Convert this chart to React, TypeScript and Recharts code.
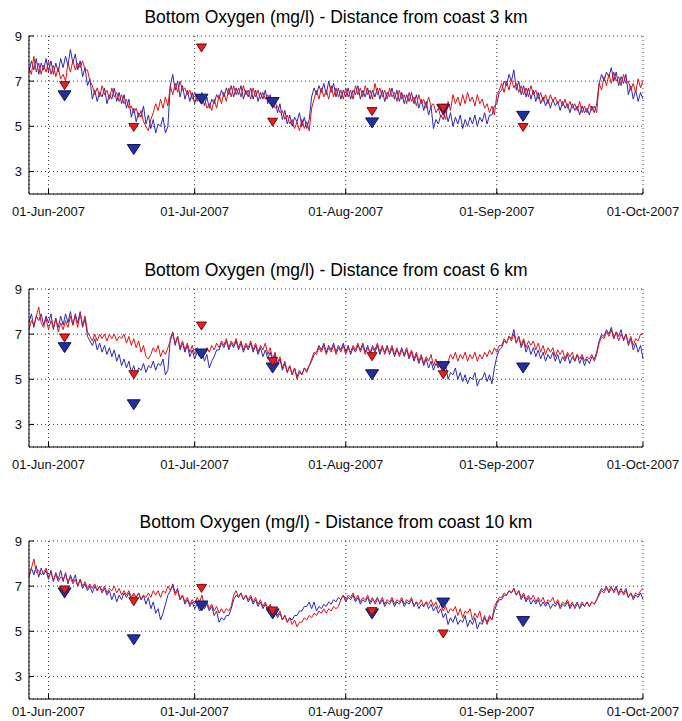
import {
  ComposedChart,
  Line,
  Scatter,
  XAxis,
  YAxis,
  CartesianGrid,
} from "recharts";

// time axis: days counted from 01-Jun-2007, half-day samples
const startDay = -4;
const stepDays = 0.5;
const dateTicks = [0, 30, 61, 92, 122];
const dateLabels = [
  "01-Jun-2007",
  "01-Jul-2007",
  "01-Aug-2007",
  "01-Sep-2007",
  "01-Oct-2007",
];
const oxyTicks = [3, 5, 7, 9];

// days of the ship samples (triangles)
const sampleDays = [3.3, 17.5, 31.4, 46, 66.4, 81, 97.4];

// ---- 3 km ----
const red3km = [
  7.6, 7.3, 8.1, 7.4, 7.8, 7.3, 7.7, 7.4, 7.9, 7.3, 7.7, 7.2, 7.6, 7.1, 7.3, 7.0, 7.8, 7.4, 7.9, 7.5,
  7.8, 7.6, 7.9, 7.5, 7.5, 7.0, 6.8, 6.4, 6.7, 6.3, 6.8, 6.4, 6.6, 6.2, 6.7, 6.3, 6.5, 6.1, 6.4, 6.0,
  6.2, 5.8, 5.9, 5.6, 5.8, 5.4, 5.7, 5.2, 5.0, 4.8, 5.3, 5.6, 6.0, 5.7, 6.2, 5.8, 6.3, 5.9, 6.8, 6.4,
  6.9, 6.5, 7.0, 6.6, 6.7, 6.4, 6.6, 6.2, 6.5, 6.1, 6.4, 6.0, 6.3, 5.8, 6.0, 5.7, 6.2, 5.8, 6.4, 6.0,
  6.5, 6.1, 6.7, 6.3, 6.8, 6.4, 6.7, 6.3, 6.8, 6.4, 6.6, 6.2, 6.7, 6.3, 6.6, 6.2, 6.5, 6.2, 6.4, 6.0,
  6.2, 5.8, 5.9, 5.6, 5.7, 5.3, 5.5, 5.1, 5.3, 4.9, 5.2, 4.8, 5.3, 4.9, 5.2, 4.8, 5.8, 6.2, 6.6, 6.2,
  6.7, 6.3, 6.6, 6.2, 6.8, 6.3, 6.7, 6.3, 6.6, 6.2, 6.7, 6.3, 6.6, 6.2, 6.8, 6.4, 6.7, 6.3, 6.8, 6.4,
  6.6, 6.2, 6.9, 6.4, 6.7, 6.3, 6.6, 6.2, 6.7, 6.3, 6.5, 6.1, 6.6, 6.2, 6.4, 6.0, 6.5, 6.1, 6.3, 5.9,
  6.4, 6.0, 6.2, 5.8, 6.3, 5.9, 6.0, 5.6, 5.8, 5.4, 5.6, 5.3, 6.1, 5.7, 6.4, 6.0, 6.3, 5.9, 6.4, 6.0,
  6.5, 6.1, 6.3, 5.9, 6.4, 6.0, 6.2, 5.8, 6.0, 5.6, 5.9, 5.5, 6.4, 6.6, 6.9, 6.5, 7.0, 6.6, 7.1, 6.7,
  6.9, 6.5, 6.8, 6.4, 6.7, 6.3, 6.8, 6.4, 6.6, 6.2, 6.5, 6.1, 6.4, 6.0, 6.4, 6.1, 6.3, 6.0, 6.2, 5.9,
  6.2, 5.8, 6.1, 5.8, 6.0, 5.7, 6.1, 5.6, 5.9, 5.6, 6.0, 5.7, 5.9, 5.6, 6.9, 6.6, 7.2, 6.8, 7.3, 6.9,
  7.4, 7.0, 7.2, 6.8, 7.3, 6.9, 7.0, 6.6, 6.9, 6.5, 7.1, 6.7, 7.0,
];
const blue3km = [
  7.4, 7.9, 7.5, 8.0, 7.3, 7.8, 7.5, 8.0, 7.4, 7.9, 7.3, 7.8, 7.4, 8.0, 7.6, 8.1, 7.7, 8.4, 7.8, 8.2,
  7.5, 7.9, 7.2, 7.6, 6.8, 7.1, 6.2, 6.6, 6.1, 6.5, 6.3, 6.7, 6.0, 6.4, 6.2, 6.7, 6.1, 6.5, 6.0, 6.4,
  5.8, 6.2, 5.4, 5.8, 5.2, 5.6, 5.4, 5.9, 5.1, 5.5, 4.9, 5.3, 4.7, 5.1, 5.0, 5.4, 4.7, 5.0, 6.8, 7.3,
  6.6, 7.0, 6.3, 6.8, 6.2, 6.6, 6.1, 6.5, 6.0, 6.4, 6.1, 6.5, 5.9, 6.3, 5.8, 6.2, 6.0, 6.4, 6.2, 6.6,
  6.3, 6.7, 6.4, 6.8, 6.3, 6.7, 6.4, 6.8, 6.2, 6.6, 6.3, 6.7, 6.2, 6.6, 6.1, 6.5, 6.2, 6.6, 6.0, 6.4,
  5.8, 6.2, 5.6, 6.0, 5.3, 5.7, 5.1, 5.5, 5.0, 5.4, 5.2, 5.6, 5.0, 5.4, 4.9, 5.3, 6.3, 6.7, 6.4, 6.8,
  6.5, 6.9, 6.4, 7.0, 6.5, 6.9, 6.3, 6.7, 6.2, 6.6, 6.3, 6.7, 6.2, 6.6, 6.4, 6.8, 6.2, 6.6, 6.3, 6.7,
  6.2, 6.6, 6.3, 6.7, 6.2, 6.6, 6.1, 6.5, 6.3, 6.7, 6.2, 6.6, 6.1, 6.5, 6.0, 6.4, 6.1, 6.5, 6.0, 6.4,
  5.8, 6.2, 5.7, 6.1, 5.5, 5.9, 4.9, 5.3, 5.1, 5.5, 5.3, 5.7, 5.2, 5.6, 5.0, 5.4, 5.1, 5.5, 4.9, 5.3,
  5.0, 5.4, 5.1, 5.5, 5.0, 5.4, 5.2, 5.6, 5.1, 5.5, 5.5, 5.9, 6.0, 6.5, 6.6, 7.0, 6.8, 7.3, 7.0, 7.5,
  6.6, 7.0, 6.4, 6.8, 6.3, 6.7, 6.2, 6.6, 6.1, 6.5, 6.0, 6.3, 5.9, 6.2, 5.8, 6.2, 5.9, 6.1, 5.7, 6.1,
  5.8, 6.0, 5.6, 6.0, 5.7, 5.9, 5.5, 5.9, 5.6, 5.8, 5.5, 5.9, 5.6, 6.0, 6.9, 7.3, 7.0, 7.4, 7.2, 7.6,
  7.0, 7.4, 6.8, 7.2, 6.9, 7.3, 6.4, 6.8, 6.2, 6.6, 6.1, 6.5, 6.2,
];
const redSample3km = [6.8, 4.95, 8.47, 5.18, 5.65, 5.8, 4.95];
const blueSample3km = [6.35, 3.97, 6.2, 6.05, 5.15, 5.75, 5.44];

// ---- 6 km ----
const red6km = [
  7.2, 7.6, 7.4, 7.8, 8.2, 7.5, 7.3, 7.7, 7.2, 7.6, 7.3, 7.7, 7.1, 7.5, 7.2, 7.6, 7.3, 7.8, 7.4, 7.8,
  7.3, 7.9, 7.4, 7.8, 7.1, 6.9, 6.7, 7.0, 6.7, 7.0, 6.8, 7.0, 6.7, 7.0, 6.8, 7.0, 6.7, 6.9, 6.8, 7.0,
  6.6, 6.9, 6.5, 6.8, 6.4, 6.7, 6.2, 6.5, 6.0, 5.9, 6.1, 6.4, 6.2, 6.5, 6.0, 6.3, 6.1, 6.4, 6.7, 7.0,
  6.6, 6.9, 6.4, 6.7, 6.3, 6.6, 6.2, 6.5, 6.1, 6.4, 6.0, 6.3, 6.1, 6.4, 6.2, 6.5, 6.3, 6.6, 6.4, 6.7,
  6.5, 6.8, 6.4, 6.7, 6.5, 6.8, 6.4, 6.7, 6.3, 6.6, 6.4, 6.7, 6.3, 6.6, 6.2, 6.5, 6.3, 6.6, 6.1, 6.4,
  5.9, 6.2, 5.7, 6.0, 5.5, 5.8, 5.3, 5.6, 5.2, 5.5, 5.0, 5.3, 5.2, 5.5, 5.3, 5.6, 5.9, 6.2, 6.1, 6.4,
  6.2, 6.5, 6.1, 6.4, 6.2, 6.5, 6.1, 6.4, 6.2, 6.5, 6.1, 6.4, 6.2, 6.5, 6.3, 6.6, 6.2, 6.5, 6.1, 6.4,
  6.2, 6.5, 6.3, 6.6, 6.2, 6.5, 6.1, 6.4, 6.2, 6.5, 6.1, 6.4, 6.0, 6.3, 6.1, 6.4, 6.0, 6.3, 5.9, 6.2,
  5.8, 6.1, 5.7, 6.0, 5.8, 6.1, 5.6, 5.9, 5.5, 5.8, 5.3, 5.6, 5.8, 6.1, 5.9, 6.2, 5.8, 6.1, 5.9, 6.2,
  5.8, 6.1, 5.9, 6.2, 5.8, 6.1, 5.9, 6.2, 6.0, 6.3, 6.1, 6.4, 6.2, 6.5, 6.5, 6.8, 6.6, 6.9, 6.7, 7.0,
  6.6, 6.9, 6.5, 6.8, 6.4, 6.7, 6.5, 6.7, 6.3, 6.6, 6.2, 6.5, 6.1, 6.4, 6.2, 6.4, 6.0, 6.3, 6.1, 6.3,
  5.9, 6.2, 6.0, 6.2, 5.8, 6.1, 5.9, 6.1, 5.8, 6.0, 5.9, 6.1, 5.8, 6.1, 6.6, 6.9, 6.8, 7.1, 6.9, 7.2,
  6.8, 7.1, 6.7, 7.0, 6.8, 7.0, 6.6, 6.9, 6.5, 6.8, 6.7, 7.0, 7.0,
];
const blue6km = [
  7.5, 7.9, 7.3, 7.8, 7.6, 7.9, 7.4, 7.8, 7.5, 7.9, 7.2, 7.7, 7.3, 7.8, 7.4, 7.9, 7.5, 8.0, 7.4, 7.9,
  7.5, 8.0, 7.3, 7.7, 6.9, 6.7, 6.5, 6.8, 6.3, 6.6, 6.2, 6.5, 6.1, 6.4, 6.0, 6.3, 5.8, 6.1, 5.6, 5.9,
  5.5, 5.8, 5.3, 5.6, 5.2, 5.5, 5.4, 5.7, 5.3, 5.6, 5.5, 5.8, 5.4, 5.7, 5.6, 5.9, 5.2, 5.4, 6.8, 7.1,
  6.5, 6.9, 6.3, 6.6, 6.2, 6.5, 6.0, 6.3, 5.9, 6.2, 6.0, 6.3, 5.8, 6.1, 5.5, 5.8, 6.0, 6.3, 6.3, 6.6,
  6.4, 6.7, 6.3, 6.6, 6.4, 6.7, 6.3, 6.6, 6.2, 6.5, 6.3, 6.6, 6.2, 6.5, 6.1, 6.4, 6.0, 6.3, 5.9, 6.2,
  5.8, 6.1, 5.6, 5.9, 5.4, 5.7, 5.3, 5.6, 5.2, 5.5, 5.1, 5.4, 5.2, 5.5, 5.4, 5.6, 5.8, 6.1, 6.2, 6.5,
  6.3, 6.6, 6.2, 6.5, 6.3, 6.6, 6.2, 6.5, 6.3, 6.6, 6.2, 6.5, 6.1, 6.4, 6.2, 6.5, 6.3, 6.6, 6.2, 6.5,
  6.1, 6.4, 6.2, 6.5, 6.1, 6.4, 6.2, 6.5, 6.1, 6.4, 6.0, 6.3, 6.1, 6.4, 6.0, 6.3, 5.9, 6.2, 5.8, 6.1,
  5.7, 6.0, 5.6, 5.9, 5.5, 5.8, 5.4, 5.7, 5.5, 5.8, 5.3, 5.6, 5.0, 5.3, 5.2, 5.5, 5.0, 5.3, 4.9, 5.2,
  4.8, 5.1, 5.0, 5.3, 4.7, 5.0, 5.0, 5.3, 4.9, 5.2, 4.8, 5.5, 6.0, 6.3, 6.4, 6.7, 6.6, 6.9, 6.8, 7.2,
  6.6, 6.9, 6.4, 6.7, 6.2, 6.5, 6.1, 6.4, 6.0, 6.3, 5.9, 6.2, 5.8, 6.1, 5.9, 6.2, 5.8, 6.1, 5.7, 6.0,
  5.8, 6.1, 5.7, 6.0, 5.8, 6.1, 5.7, 6.0, 5.6, 5.9, 5.7, 6.0, 5.9, 6.2, 6.7, 7.0, 6.9, 7.2, 7.0, 7.3,
  6.8, 7.1, 6.9, 7.2, 6.7, 7.0, 6.5, 6.8, 6.3, 6.6, 6.2, 6.5, 5.9,
];
const redSample6km = [6.83, 5.2, 7.36, 5.78, 6.0, 5.2, null];
const blueSample6km = [6.4, 3.87, 6.12, 5.5, 5.2, 5.56, 5.5];

// ---- 10 km ----
const red10km = [
  7.5, 7.8, 8.2, 7.6, 7.7, 7.5, 7.6, 7.8, 7.4, 7.6, 7.3, 7.5, 7.2, 7.4, 7.3, 7.5, 7.2, 7.4, 7.1, 7.3,
  7.0, 7.3, 7.0, 7.2, 6.9, 7.1, 6.9, 7.1, 6.8, 7.0, 6.8, 7.0, 6.7, 6.9, 6.8, 7.0, 6.7, 6.9, 6.6, 6.8,
  6.6, 6.8, 6.5, 6.7, 6.5, 6.7, 6.4, 6.6, 6.5, 6.7, 6.5, 6.8, 6.6, 6.8, 6.5, 6.8, 6.7, 7.0, 6.8, 7.0,
  6.6, 6.8, 6.4, 6.6, 6.3, 6.5, 6.2, 6.4, 6.2, 6.5, 6.3, 6.6, 6.1, 6.3, 6.0, 6.2, 5.9, 6.1, 5.8, 6.0,
  5.8, 6.0, 5.9, 6.1, 6.6, 6.8, 6.5, 6.7, 6.4, 6.6, 6.4, 6.6, 6.3, 6.5, 6.2, 6.4, 6.1, 6.3, 6.0, 6.2,
  5.8, 6.0, 5.7, 5.9, 5.5, 5.7, 5.4, 5.6, 5.3, 5.5, 5.2, 5.4, 5.4, 5.6, 5.5, 5.7, 5.6, 5.8, 5.7, 5.9,
  5.8, 6.0, 5.8, 6.0, 5.9, 6.1, 6.0, 6.1, 6.4, 6.6, 6.4, 6.6, 6.5, 6.7, 6.4, 6.6, 6.3, 6.5, 6.4, 6.6,
  6.3, 6.5, 6.2, 6.4, 6.3, 6.5, 6.2, 6.4, 6.3, 6.5, 6.2, 6.4, 6.3, 6.5, 6.2, 6.4, 6.3, 6.5, 6.1, 6.3,
  6.2, 6.4, 6.1, 6.3, 6.2, 6.4, 6.1, 6.3, 6.0, 6.2, 5.9, 6.1, 5.8, 6.0, 5.9, 6.1, 5.7, 6.0, 5.6, 5.9,
  5.8, 6.0, 5.5, 5.8, 5.6, 5.9, 5.4, 5.7, 5.3, 5.6, 5.5, 6.1, 6.3, 6.5, 6.5, 6.7, 6.6, 6.8, 6.7, 6.9,
  6.6, 6.8, 6.5, 6.7, 6.4, 6.6, 6.4, 6.6, 6.3, 6.5, 6.3, 6.5, 6.2, 6.4, 6.3, 6.5, 6.2, 6.4, 6.1, 6.3,
  6.2, 6.4, 6.1, 6.3, 6.0, 6.2, 6.1, 6.3, 6.1, 6.3, 6.1, 6.3, 6.2, 6.4, 6.6, 6.8, 6.7, 6.9, 6.8, 7.0,
  6.7, 6.9, 6.7, 6.9, 6.6, 6.8, 6.5, 6.7, 6.5, 6.7, 6.6, 6.8, 6.9,
];
const blue10km = [
  7.4, 7.8, 7.5, 7.9, 7.4, 7.8, 7.5, 7.7, 7.3, 7.7, 7.2, 7.6, 7.3, 7.7, 7.2, 7.6, 7.1, 7.5, 7.2, 7.5,
  7.0, 7.3, 6.9, 7.1, 6.8, 7.0, 6.7, 7.0, 6.8, 7.0, 6.7, 6.9, 6.6, 6.8, 6.4, 6.7, 6.3, 6.6, 6.4, 6.7,
  6.5, 6.7, 6.4, 6.6, 6.5, 6.7, 6.4, 6.6, 6.2, 6.5, 6.0, 6.3, 5.8, 6.0, 5.5, 5.8, 6.2, 6.6, 6.8, 7.1,
  6.7, 6.9, 6.4, 6.6, 6.2, 6.4, 6.1, 6.3, 6.0, 6.2, 5.9, 6.1, 6.0, 6.2, 5.9, 6.1, 5.7, 5.9, 5.4, 5.6,
  5.5, 5.7, 5.7, 6.0, 6.4, 6.6, 6.5, 6.7, 6.4, 6.6, 6.3, 6.5, 6.2, 6.4, 6.1, 6.3, 6.0, 6.2, 5.9, 6.1,
  5.7, 5.9, 5.6, 5.8, 5.5, 5.7, 5.4, 5.6, 5.5, 5.7, 5.7, 5.9, 5.9, 6.1, 6.1, 6.3, 6.0, 6.3, 5.9, 6.1,
  6.0, 6.2, 6.1, 6.3, 6.2, 6.4, 6.3, 6.5, 6.4, 6.6, 6.3, 6.5, 6.4, 6.6, 6.3, 6.5, 6.2, 6.4, 6.3, 6.5,
  6.2, 6.4, 6.3, 6.5, 6.2, 6.4, 6.1, 6.3, 6.2, 6.4, 6.1, 6.3, 6.2, 6.4, 6.1, 6.3, 6.2, 6.4, 6.1, 6.3,
  6.0, 6.2, 6.1, 6.3, 6.0, 6.2, 5.9, 6.1, 5.8, 6.0, 5.6, 5.8, 5.3, 5.6, 5.4, 5.7, 5.3, 5.5, 5.4, 5.7,
  5.2, 5.5, 5.3, 5.6, 5.1, 5.4, 5.3, 5.6, 5.4, 5.7, 5.5, 5.9, 6.2, 6.4, 6.4, 6.6, 6.6, 6.8, 6.7, 6.9,
  6.6, 6.8, 6.4, 6.6, 6.3, 6.5, 6.2, 6.4, 6.2, 6.4, 6.1, 6.3, 6.1, 6.3, 6.0, 6.2, 6.1, 6.3, 6.0, 6.2,
  6.1, 6.3, 6.0, 6.2, 6.1, 6.3, 6.0, 6.2, 6.1, 6.3, 6.1, 6.3, 6.2, 6.4, 6.7, 6.9, 6.8, 7.0, 6.7, 6.9,
  6.8, 7.0, 6.6, 6.8, 6.7, 6.9, 6.5, 6.7, 6.4, 6.6, 6.5, 6.7, 6.4,
];
const redSample10km = [6.83, 6.31, 6.9, 5.9, 5.87, 4.88, null];
const blueSample10km = [6.7, 4.62, 6.12, 5.77, 5.77, 6.25, 5.43];

const FONT = '"Liberation Sans", Arial, Helvetica, sans-serif';
const RED = "#dc1418";
const BLUE = "#2a2ab0";

function buildRows(red: number[], blue: number[]) {
  const n = Math.max(red.length, blue.length);
  const rows = [];
  for (let i = 0; i < n; i++) {
    rows.push({ day: startDay + i * stepDays, red: red[i], blue: blue[i] });
  }
  return rows;
}

function buildSamples(vals: (number | null)[]) {
  return sampleDays
    .map((d, i) => ({ day: d, v: vals[i] }))
    .filter((p) => p.v != null);
}

const triangle =
  (w: number, h: number, fill: string, stroke: string) => (props: any) => {
    const { cx, cy } = props;
    if (cx == null || cy == null) return <g />;
    return (
      <path
        d={`M${cx - w / 2},${cy - h / 2}L${cx + w / 2},${cy - h / 2}L${cx},${cy + h / 2}Z`}
        fill={fill}
        stroke={stroke}
        strokeWidth={1}
      />
    );
  };

// bottom date labels; labelGap lets the last panel sit closer to the page edge
const makeBottomTick = (labelGap: number) => ({ x, y, payload }: any) => {
  const i = dateTicks.indexOf(payload.value);
  return (
    <g>
      <line x1={x} y1={y} x2={x} y2={y - 5} stroke="#000" />
      <text x={x} y={y + labelGap} textAnchor="middle" fontSize={13} fontFamily={FONT} fill="#111">
        {dateLabels[i]}
      </text>
    </g>
  );
};
const TopTick = ({ x, y }: any) => (
  <line x1={x} y1={y} x2={x} y2={y + 5} stroke="#000" />
);
const LeftTick = ({ x, y, payload }: any) => (
  <g>
    <line x1={x} y1={y} x2={x + 5} y2={y} stroke="#000" />
    <text x={x - 7} y={y + 4.5} textAnchor="end" fontSize={13} fontFamily={FONT} fill="#111">
      {payload.value}
    </text>
  </g>
);
const RightTick = ({ x, y }: any) => (
  <line x1={x} y1={y} x2={x - 5} y2={y} stroke="#000" />
);

interface PanelProps {
  top: number;
  title: string;
  red: number[];
  blue: number[];
  redSamples: (number | null)[];
  blueSamples: (number | null)[];
  labelGap?: number;
}

function Panel({ top, title, red, blue, redSamples, blueSamples, labelGap = 22 }: PanelProps) {
  const rows = buildRows(red, blue);
  const BottomTick = makeBottomTick(labelGap);
  return (
    <div style={{ position: "absolute", left: 0, top, width: 682, height: 222 }}>
      <div
        style={{
          position: "absolute",
          left: 29,
          width: 614,
          top: 6,
          textAlign: "center",
          fontFamily: FONT,
          fontSize: 17.5,
          lineHeight: "22px",
          color: "#000",
        }}
      >
        {title}
      </div>
      <ComposedChart
        width={682}
        height={222}
        data={rows}
        margin={{ top: 36, right: 39, bottom: 0, left: 0 }}
      >
        <CartesianGrid stroke="#333" strokeDasharray="1 3" />
        <XAxis
          dataKey="day"
          type="number"
          domain={[-4, 122]}
          ticks={dateTicks}
          interval={0}
          height={28}
          tickSize={0}
          tickMargin={0}
          tickLine={false}
          axisLine={{ stroke: "#000" }}
          tick={<BottomTick />}
        />
        <XAxis
          xAxisId="top"
          orientation="top"
          dataKey="day"
          type="number"
          domain={[-4, 122]}
          ticks={dateTicks}
          interval={0}
          height={0}
          tickSize={0}
          tickMargin={0}
          tickLine={false}
          axisLine={{ stroke: "#000" }}
          tick={<TopTick />}
        />
        <YAxis
          type="number"
          domain={[2, 9]}
          ticks={oxyTicks}
          interval={0}
          width={29}
          tickSize={0}
          tickMargin={0}
          tickLine={false}
          axisLine={{ stroke: "#000" }}
          tick={<LeftTick />}
        />
        <YAxis
          yAxisId="right"
          orientation="right"
          type="number"
          domain={[2, 9]}
          ticks={oxyTicks}
          interval={0}
          width={0}
          tickSize={0}
          tickMargin={0}
          tickLine={false}
          axisLine={{ stroke: "#000" }}
          tick={<RightTick />}
        />
        <Line
          dataKey="blue"
          stroke={BLUE}
          strokeWidth={1}
          dot={false}
          type="linear"
          isAnimationActive={false}
        />
        <Line
          dataKey="red"
          stroke={RED}
          strokeWidth={1}
          dot={false}
          type="linear"
          isAnimationActive={false}
        />
        <Scatter
          data={buildSamples(blueSamples)}
          dataKey="v"
          shape={triangle(13, 10, "#23309a", "#0c1460")}
          isAnimationActive={false}
        />
        <Scatter
          data={buildSamples(redSamples)}
          dataKey="v"
          shape={triangle(10, 8, "#e3201c", "#7a0c0c")}
          isAnimationActive={false}
        />
      </ComposedChart>
    </div>
  );
}

export default function App() {
  return (
    <div
      style={{
        position: "absolute",
        left: 0,
        top: 0,
        width: 682,
        height: 721,
        overflow: "hidden",
        background: "#fff",
      }}
    >
      <Panel
        top={0}
        title="Bottom Oxygen (mg/l) - Distance from coast 3 km"
        red={red3km}
        blue={blue3km}
        redSamples={redSample3km}
        blueSamples={blueSample3km}
      />
      <Panel
        top={253}
        title="Bottom Oxygen (mg/l) - Distance from coast 6 km"
        red={red6km}
        blue={blue6km}
        redSamples={redSample6km}
        blueSamples={blueSample6km}
      />
      <Panel
        top={505}
        title="Bottom Oxygen (mg/l) - Distance from coast 10 km"
        red={red10km}
        blue={blue10km}
        redSamples={redSample10km}
        blueSamples={blueSample10km}
        labelGap={17}
      />
    </div>
  );
}
